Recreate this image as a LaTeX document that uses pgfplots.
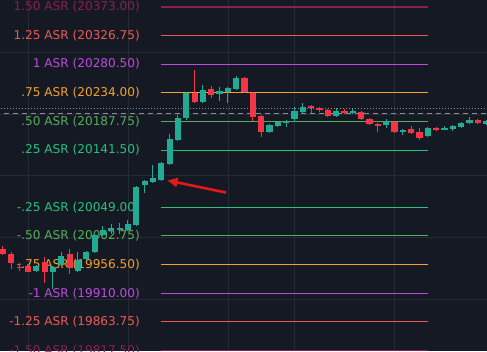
\documentclass[border=0pt]{standalone}
\usepackage{pgfplots}
\pgfplotsset{compat=1.18}
\usepackage{pgfplotstable}
\usepackage{fontspec}
\setmainfont{DejaVu Sans}
\usetikzlibrary{arrows.meta}
\definecolor{bgc}{HTML}{151924}
\definecolor{gridc}{HTML}{262A35}
\definecolor{upc}{HTML}{22AB94}
\definecolor{dnc}{HTML}{F23645}
\definecolor{lvA}{HTML}{8A2052}
\definecolor{lvB}{HTML}{EE5A52}
\definecolor{lvC}{HTML}{BE4BDB}
\definecolor{lvD}{HTML}{F2A22C}
\definecolor{lvE}{HTML}{55AE5A}
\definecolor{lvF}{HTML}{25C27E}
\definecolor{arrowc}{HTML}{E3191B}
\definecolor{dashc}{HTML}{8A8D96}

% index open high low close
\pgfplotstableread{
i o h l c
4 19946.9 19956.6 19945.3 19955.0
6 19943.7 19955.0 19917.7 19951.8
7 19956.6 19976.1 19953.4 19971.2
9 19946.9 19976.1 19945.3 19964.7
10 19964.7 19977.7 19963.1 19976.1
11 19976.1 20005.2 19974.4 20003.6
12 20003.6 20018.2 20002.0 20011.7
13 20010.1 20021.4 20006.8 20015.0
14 20013.3 20023.0 20006.8 20015.0
15 20011.7 20027.9 20010.1 20021.4
16 20019.8 20083.0 20018.2 20081.4
17 20084.6 20092.7 20071.6 20091.1
18 20089.5 20117.0 20087.8 20095.9
19 20092.7 20121.9 20091.1 20120.2
20 20118.6 20167.2 20117.0 20159.1
21 20157.5 20198.0 20155.9 20193.1
22 20193.1 20235.3 20189.9 20233.6
24 20219.1 20246.6 20217.4 20238.5
26 20232.0 20243.4 20220.7 20236.9
27 20235.3 20243.4 20217.4 20241.7
28 20240.1 20261.2 20238.5 20257.9
32 20170.5 20183.4 20168.8 20181.8
33 20180.2 20186.7 20178.6 20186.7
34 20185.0 20189.9 20178.6 20188.3
35 20191.5 20210.9 20186.7 20204.4
36 20202.9 20217.4 20201.2 20210.9
40 20196.4 20209.3 20194.7 20204.4
42 20201.2 20207.7 20199.6 20204.4
46 20181.8 20191.5 20176.9 20188.3
48 20172.1 20175.3 20165.6 20173.7
51 20163.9 20178.6 20162.3 20177.0
53 20175.3 20180.2 20173.7 20177.0
54 20175.3 20181.8 20172.1 20180.2
55 20178.6 20186.7 20176.9 20185.0
56 20185.0 20194.7 20183.4 20189.9
58 20183.4 20189.9 20181.8 20188.3
}\upcandles

\pgfplotstableread{
i o h l c
0 19982.5 19985.8 19972.8 19974.4
1 19974.4 19976.1 19950.1 19959.9
2 19953.4 19959.9 19946.9 19951.8
3 19955.0 19958.2 19943.7 19945.3
5 19961.5 19968.0 19927.5 19945.3
8 19974.4 19982.5 19942.0 19951.8
23 20233.6 20270.9 20217.4 20219.1
25 20240.1 20245.0 20225.5 20230.4
29 20257.9 20259.5 20233.6 20235.2
30 20233.6 20235.3 20188.3 20194.7
31 20196.4 20198.0 20162.4 20170.5
37 20212.6 20214.2 20201.2 20209.3
38 20209.3 20210.9 20203.9 20206.1
39 20206.1 20207.7 20194.7 20196.4
41 20204.4 20207.7 20199.6 20201.2
43 20202.9 20204.4 20189.9 20191.5
44 20191.5 20193.1 20181.8 20183.4
45 20183.4 20185.0 20170.5 20180.2
47 20186.7 20188.3 20168.8 20170.5
49 20175.3 20180.2 20167.2 20168.8
50 20170.5 20177.0 20157.5 20160.7
52 20177.0 20178.6 20172.1 20175.3
57 20189.9 20191.5 20183.4 20185.0
}\dncandles

\begin{document}
\fontsize{12.1}{14}\selectfont
\begin{tikzpicture}
\begin{axis}[
  width=487pt, height=351pt, scale only axis,
  xmin=-0.36, xmax=58.1, ymin=19816.7, ymax=20384.3,
  axis background/.style={fill=bgc},
  axis line style={draw=none},
  xtick={3,15,27,35,47}, ytick={19900,20000,20100,20200,20300},
  xticklabels={}, yticklabels={},
  major tick length=0pt,
  grid=major, grid style={color=gridc, line width=0.8pt},
  clip=true,
  lvl/.style={mark=none, line width=1.05pt, forget plot},
]
% dotted and dashed price lines
\addplot[draw=dashc, mark=none, line width=0.8pt, dash pattern=on 1pt off 2pt, forget plot] coordinates {(-1,20209.5) (60,20209.5)};
\addplot[draw=dashc, mark=none, line width=0.9pt, dash pattern=on 5pt off 4pt, forget plot] coordinates {(-1,20201.2) (60,20201.2)};
% ASR levels
\addplot[draw=lvA, lvl] coordinates {(18.97,20373.00) (51.02,20373.00)};
\addplot[draw=lvB, lvl] coordinates {(18.97,20326.75) (51.02,20326.75)};
\addplot[draw=lvC, lvl] coordinates {(18.97,20280.50) (51.02,20280.50)};
\addplot[draw=lvD, lvl] coordinates {(18.97,20234.00) (51.02,20234.00)};
\addplot[draw=lvE, lvl] coordinates {(18.97,20187.75) (51.02,20187.75)};
\addplot[draw=lvF, lvl] coordinates {(18.97,20141.50) (51.02,20141.50)};
\addplot[draw=lvF, lvl] coordinates {(18.97,20049.00) (51.02,20049.00)};
\addplot[draw=lvE, lvl] coordinates {(18.97,20002.75) (51.02,20002.75)};
\addplot[draw=lvD, lvl] coordinates {(18.97,19956.50) (51.02,19956.50)};
\addplot[draw=lvC, lvl] coordinates {(18.97,19910.00) (51.02,19910.00)};
\addplot[draw=lvB, lvl] coordinates {(18.97,19863.75) (51.02,19863.75)};
\addplot[draw=lvA, lvl] coordinates {(18.97,19817.50) (51.02,19817.50)};
% labels
\node[anchor=east, inner sep=0pt, text=lvA] at (axis cs:16.45,20373.00) {1.50 ASR (20373.00)};
\node[anchor=east, inner sep=0pt, text=lvB] at (axis cs:16.45,20326.75) {1.25 ASR (20326.75)};
\node[anchor=east, inner sep=0pt, text=lvC] at (axis cs:16.45,20280.50) {1 ASR (20280.50)};
\node[anchor=east, inner sep=0pt, text=lvD] at (axis cs:16.45,20234.00) {.75 ASR (20234.00)};
\node[anchor=east, inner sep=0pt, text=lvE] at (axis cs:16.45,20187.75) {.50 ASR (20187.75)};
\node[anchor=east, inner sep=0pt, text=lvF] at (axis cs:16.45,20141.50) {.25 ASR (20141.50)};
\node[anchor=east, inner sep=0pt, text=lvF] at (axis cs:16.45,20049.00) {-.25 ASR (20049.00)};
\node[anchor=east, inner sep=0pt, text=lvE] at (axis cs:16.45,20002.75) {-.50 ASR (20002.75)};
\node[anchor=east, inner sep=0pt, text=lvD] at (axis cs:16.45,19956.50) {-.75 ASR (19956.50)};
\node[anchor=east, inner sep=0pt, text=lvC] at (axis cs:16.45,19910.00) {-1 ASR (19910.00)};
\node[anchor=east, inner sep=0pt, text=lvB] at (axis cs:16.45,19863.75) {-1.25 ASR (19863.75)};
\node[anchor=east, inner sep=0pt, text=lvA] at (axis cs:16.45,19817.50) {-1.50 ASR (19817.50)};
% wicks
\addplot[draw=none, mark=none, forget plot, error bars/.cd, y dir=both, y explicit, error mark=none,
  error bar style={draw=upc, line width=1pt}]
  table[x=i, y expr={(\thisrow{h}+\thisrow{l})/2}, y error expr={(\thisrow{h}-\thisrow{l})/2}] {\upcandles};
\addplot[draw=none, mark=none, forget plot, error bars/.cd, y dir=both, y explicit, error mark=none,
  error bar style={draw=dnc, line width=1pt}]
  table[x=i, y expr={(\thisrow{h}+\thisrow{l})/2}, y error expr={(\thisrow{h}-\thisrow{l})/2}] {\dncandles};
% bodies
\addplot[draw=none, mark=none, forget plot, error bars/.cd, y dir=both, y explicit, error mark=none,
  error bar style={draw=upc, line width=6.2pt}]
  table[x=i, y expr={(\thisrow{o}+\thisrow{c})/2}, y error expr={abs(\thisrow{c}-\thisrow{o})/2}] {\upcandles};
\addplot[draw=none, mark=none, forget plot, error bars/.cd, y dir=both, y explicit, error mark=none,
  error bar style={draw=dnc, line width=6.2pt}]
  table[x=i, y expr={(\thisrow{o}+\thisrow{c})/2}, y error expr={abs(\thisrow{c}-\thisrow{o})/2}] {\dncandles};
% annotation arrow
\draw[-{Triangle[length=10pt,width=9pt]}, line width=2.6pt, arrowc] (axis cs:26.77,20072.9) -- (axis cs:19.75,20092.5);
\end{axis}
\pgfresetboundingbox
\path[use as bounding box] (current axis.south west) rectangle (current axis.north east);
\end{tikzpicture}
\end{document}
